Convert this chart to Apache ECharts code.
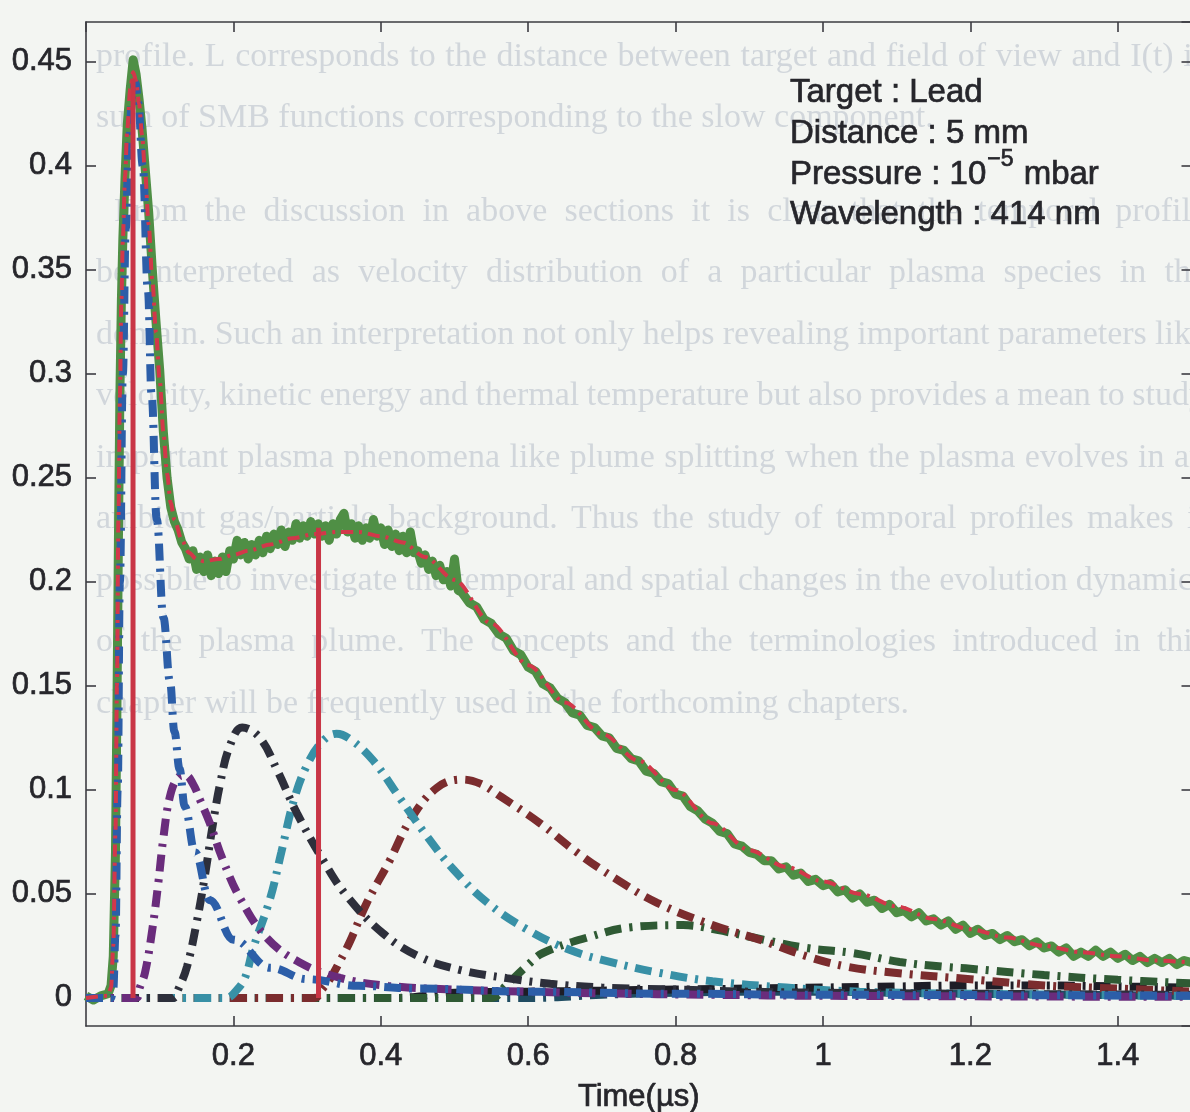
<!DOCTYPE html>
<html>
<head>
<meta charset="utf-8">
<title>Temporal profile – Lead, 414 nm</title>
<script src="https://cdn.jsdelivr.net/npm/echarts@6/dist/echarts.min.js"></script>
<style>
  html, body { margin: 0; padding: 0; background: #f3f5f2; }
  #chart { width: 1190px; height: 1112px; }
</style>
</head>
<body>
<div id="chart"></div>
<script>
// ---- data: time (µs) / normalised intensity ----
const xTickLabels = ['0.2', '0.4', '0.6', '0.8', '1', '1.2', '1.4'];
const yTickLabels = ['0', '0.05', '0.1', '0.15', '0.2', '0.25', '0.3', '0.35', '0.4', '0.45'];

// measured temporal profile
const measured = [
  [0, 0.001], [0.01, -0.001], [0.02, 0.001], [0.03, 0.002], [0.034, 0.006], [0.037, 0.02],
  [0.04, 0.07], [0.042, 0.14], [0.044, 0.22], [0.046, 0.29], [0.048, 0.335], [0.05, 0.365],
  [0.053, 0.395], [0.056, 0.42], [0.06, 0.437], [0.064, 0.451], [0.068, 0.444], [0.072, 0.432],
  [0.076, 0.418], [0.08, 0.40], [0.085, 0.378], [0.09, 0.35], [0.095, 0.325], [0.1, 0.302],
  [0.105, 0.272], [0.11, 0.25], [0.115, 0.236], [0.12, 0.229], [0.125, 0.225], [0.13, 0.219],
  [0.135, 0.216], [0.14, 0.211], [0.145, 0.215], [0.15, 0.206], [0.155, 0.212], [0.16, 0.205],
  [0.165, 0.213], [0.17, 0.203], [0.175, 0.21], [0.18, 0.204], [0.185, 0.212], [0.19, 0.205],
  [0.195, 0.215], [0.2, 0.211], [0.205, 0.22], [0.21, 0.213], [0.215, 0.219], [0.22, 0.211],
  [0.225, 0.218], [0.23, 0.213], [0.235, 0.22], [0.24, 0.214], [0.245, 0.222], [0.25, 0.216],
  [0.255, 0.223], [0.26, 0.218], [0.265, 0.225], [0.27, 0.217], [0.275, 0.224], [0.28, 0.22],
  [0.285, 0.228], [0.29, 0.221], [0.295, 0.227], [0.3, 0.222], [0.305, 0.229], [0.31, 0.223],
  [0.315, 0.228], [0.32, 0.222], [0.325, 0.227], [0.33, 0.22], [0.335, 0.228], [0.34, 0.223],
  [0.345, 0.23], [0.35, 0.233], [0.355, 0.224], [0.36, 0.228], [0.365, 0.221], [0.37, 0.227],
  [0.375, 0.22], [0.38, 0.226], [0.385, 0.221], [0.39, 0.23], [0.395, 0.222], [0.4, 0.226],
  [0.405, 0.218], [0.41, 0.225], [0.415, 0.217], [0.42, 0.223], [0.425, 0.215], [0.43, 0.222],
  [0.435, 0.214], [0.44, 0.224], [0.445, 0.214], [0.45, 0.215], [0.455, 0.209], [0.46, 0.213],
  [0.465, 0.206], [0.47, 0.21], [0.475, 0.203], [0.48, 0.208], [0.485, 0.201], [0.49, 0.205],
  [0.495, 0.198], [0.5, 0.211], [0.505, 0.196], [0.51, 0.195], [0.52, 0.19], [0.53, 0.188],
  [0.54, 0.182], [0.55, 0.18], [0.56, 0.175], [0.57, 0.173], [0.58, 0.167], [0.59, 0.165],
  [0.6, 0.159], [0.61, 0.157], [0.62, 0.151], [0.63, 0.149], [0.64, 0.144], [0.65, 0.142],
  [0.66, 0.137], [0.67, 0.136], [0.68, 0.131], [0.69, 0.13], [0.7, 0.126], [0.71, 0.125],
  [0.72, 0.12], [0.73, 0.119], [0.74, 0.115], [0.75, 0.114], [0.76, 0.109], [0.77, 0.108],
  [0.78, 0.104], [0.79, 0.103], [0.8, 0.098], [0.81, 0.097], [0.82, 0.092], [0.83, 0.09],
  [0.84, 0.086], [0.85, 0.084], [0.86, 0.08], [0.87, 0.079], [0.88, 0.074], [0.89, 0.073],
  [0.9, 0.07], [0.91, 0.069], [0.92, 0.066], [0.93, 0.066], [0.94, 0.062], [0.95, 0.063],
  [0.96, 0.059], [0.97, 0.06], [0.98, 0.056], [0.99, 0.057], [1.0, 0.054], [1.01, 0.055],
  [1.02, 0.051], [1.03, 0.052], [1.04, 0.048], [1.05, 0.05], [1.06, 0.046], [1.07, 0.047],
  [1.08, 0.043], [1.09, 0.045], [1.1, 0.041], [1.11, 0.042], [1.12, 0.039], [1.13, 0.041],
  [1.14, 0.037], [1.15, 0.038], [1.16, 0.035], [1.17, 0.037], [1.18, 0.033], [1.19, 0.035],
  [1.2, 0.031], [1.21, 0.033], [1.22, 0.03], [1.23, 0.031], [1.24, 0.028], [1.25, 0.03],
  [1.26, 0.027], [1.27, 0.028], [1.28, 0.025], [1.29, 0.027], [1.3, 0.024], [1.31, 0.025],
  [1.32, 0.022], [1.33, 0.024], [1.34, 0.02], [1.35, 0.022], [1.36, 0.02], [1.37, 0.023],
  [1.38, 0.02], [1.39, 0.022], [1.4, 0.019], [1.41, 0.021], [1.42, 0.018], [1.43, 0.02],
  [1.44, 0.017], [1.45, 0.019], [1.46, 0.017], [1.47, 0.019], [1.48, 0.016], [1.49, 0.018],
  [1.5, 0.017]
];

// sum of fitted SMB components
const fitSum = [
  [0, 0], [0.03, 0.001], [0.034, 0.005], [0.037, 0.025], [0.04, 0.08], [0.042, 0.15],
  [0.044, 0.23], [0.046, 0.29], [0.048, 0.335], [0.05, 0.365], [0.053, 0.395], [0.056, 0.418],
  [0.06, 0.437], [0.064, 0.445], [0.068, 0.441], [0.072, 0.43], [0.076, 0.415], [0.08, 0.398],
  [0.085, 0.372], [0.09, 0.345], [0.095, 0.32], [0.1, 0.297], [0.105, 0.272], [0.11, 0.252],
  [0.115, 0.238], [0.12, 0.23], [0.13, 0.22], [0.14, 0.214], [0.15, 0.211], [0.16, 0.21],
  [0.18, 0.211], [0.2, 0.213], [0.22, 0.215], [0.25, 0.218], [0.28, 0.221], [0.31, 0.223],
  [0.34, 0.224], [0.37, 0.224], [0.4, 0.222], [0.43, 0.219], [0.46, 0.212], [0.5, 0.201],
  [0.55, 0.18], [0.6, 0.16], [0.65, 0.142], [0.7, 0.127], [0.75, 0.114], [0.8, 0.1],
  [0.85, 0.084], [0.9, 0.071], [0.95, 0.063], [1.0, 0.056], [1.05, 0.05], [1.1, 0.044],
  [1.15, 0.038], [1.2, 0.033], [1.25, 0.029], [1.3, 0.025], [1.35, 0.022], [1.4, 0.02],
  [1.45, 0.018], [1.5, 0.017]
];

// individual SMB components
const smb1 = [
  [0, 0], [0.034, 0], [0.037, 0.004], [0.04, 0.03], [0.043, 0.1], [0.046, 0.2], [0.05, 0.3],
  [0.054, 0.37], [0.058, 0.41], [0.063, 0.435], [0.067, 0.44], [0.071, 0.43], [0.077, 0.4],
  [0.084, 0.34], [0.089, 0.29], [0.096, 0.23], [0.105, 0.183], [0.114, 0.152], [0.12, 0.128],
  [0.127, 0.11], [0.134, 0.092], [0.148, 0.07], [0.168, 0.047], [0.2, 0.028], [0.25, 0.0145],
  [0.3, 0.009], [0.37, 0.0058], [0.45, 0.0045], [0.6, 0.003], [0.8, 0.002], [1.0, 0.0015], [1.5, 0.001]
];
const smb2 = [
  [0, 0], [0.068, 0], [0.073, 0.005], [0.08, 0.012], [0.09, 0.033], [0.098, 0.055], [0.105, 0.077],
  [0.114, 0.097], [0.125, 0.106], [0.135, 0.107], [0.145, 0.103], [0.155, 0.095], [0.168, 0.084],
  [0.185, 0.067], [0.209, 0.048], [0.245, 0.029], [0.29, 0.017], [0.345, 0.0096], [0.41, 0.0058],
  [0.5, 0.004], [0.6, 0.003], [0.7, 0.0022], [0.85, 0.0015], [1.0, 0.001], [1.5, 0.0005]
];
const smb3 = [
  [0, 0], [0.118, 0], [0.125, 0.004], [0.137, 0.015], [0.15, 0.036], [0.161, 0.058], [0.171, 0.081],
  [0.182, 0.103], [0.195, 0.121], [0.212, 0.13], [0.236, 0.125], [0.26, 0.109], [0.286, 0.089],
  [0.322, 0.066], [0.354, 0.049], [0.403, 0.031], [0.453, 0.0197], [0.507, 0.0135], [0.571, 0.0095],
  [0.63, 0.0068], [0.7, 0.005], [0.8, 0.004], [0.9, 0.003], [1.0, 0.0025], [1.2, 0.002], [1.5, 0.0015]
];
const smb4 = [
  [0, 0], [0.19, 0], [0.205, 0.004], [0.216, 0.01], [0.227, 0.024], [0.25, 0.048], [0.265, 0.07],
  [0.282, 0.095], [0.3, 0.112], [0.32, 0.123], [0.34, 0.127], [0.36, 0.124], [0.39, 0.114],
  [0.426, 0.096], [0.462, 0.078], [0.498, 0.062], [0.544, 0.046], [0.598, 0.033], [0.657, 0.023],
  [0.715, 0.017], [0.779, 0.012], [0.85, 0.008], [0.95, 0.005], [1.05, 0.003], [1.2, 0.002], [1.5, 0.001]
];
const smb5 = [
  [0, 0], [0.31, 0], [0.32, 0.004], [0.331, 0.009], [0.345, 0.018], [0.358, 0.027], [0.381, 0.0457],
  [0.412, 0.066], [0.44, 0.0856], [0.476, 0.101], [0.51, 0.105], [0.535, 0.103], [0.562, 0.097],
  [0.616, 0.084], [0.666, 0.07], [0.72, 0.057], [0.775, 0.0457], [0.85, 0.035], [0.914, 0.028],
  [0.978, 0.02], [1.033, 0.015], [1.1, 0.012], [1.2, 0.009], [1.3, 0.006], [1.4, 0.0045], [1.5, 0.003]
];
const smb6 = [
  [0, 0], [0.55, 0], [0.57, 0.006], [0.6, 0.016], [0.62, 0.0216], [0.68, 0.029], [0.74, 0.034],
  [0.81, 0.035], [0.856, 0.0327], [0.919, 0.028], [0.978, 0.024], [1.04, 0.0216], [1.104, 0.0173],
  [1.163, 0.015], [1.2, 0.014], [1.3, 0.011], [1.4, 0.0087], [1.5, 0.007]
];
const smb7 = [
  [0, 0], [0.42, 0], [0.5, 0.0025], [0.6, 0.003], [0.7, 0.0035], [0.8, 0.004], [0.9, 0.0045],
  [1.0, 0.005], [1.1, 0.0055], [1.2, 0.006], [1.3, 0.006], [1.4, 0.0055], [1.5, 0.005]
];
const smb8 = [
  [0, 0], [0.6, 0], [0.7, 0.0015], [0.8, 0.0025], [0.9, 0.003], [1.0, 0.003], [1.1, 0.0025],
  [1.2, 0.002], [1.35, 0.0015], [1.5, 0.001]
];

// boundaries of the fit windows
const windowStart = [[0.0638, 0], [0.0638, 0.442]];
const windowEnd = [[0.3155, 0], [0.3155, 0.226]];

// experiment parameters
const infoLines = ['Target : Lead', 'Distance : 5 mm', 'Wavelength : 414 nm'];
const pressureBase = 'Pressure : 10';
const pressureExp = '\u22125';
const pressureUnit = ' mbar';

// page text behind the figure
const pageLines = [
  'profile. L corresponds to the distance between target and field of view and I(t) is',
  'sum of SMB functions corresponding to the slow component.',
  'From the discussion in above sections it is clear that the temporal profile',
  'be interpreted as velocity distribution of a particular plasma species in the',
  'domain. Such an interpretation not only helps revealing important parameters like',
  'velocity, kinetic energy and thermal temperature but also provides a mean to study',
  'important plasma phenomena like plume splitting when the plasma evolves in an',
  'ambient gas/particle background. Thus the study of temporal profiles makes it',
  'possible to investigate the temporal and spatial changes in the evolution dynamics',
  'of the plasma plume. The concepts and the terminologies introduced in this',
  'chapter will be frequently used in the forthcoming chapters.'
];
const paragraphEnds = [1, 10];

// ---- rendering ----
const SANS = '"Liberation Sans", Arial, Helvetica, sans-serif';
const SERIF = '"Liberation Serif", "Times New Roman", serif';
const INK = '#26262b';
const AXIS = '#3c3c42';

const chart = echarts.init(document.getElementById('chart'), null, { renderer: 'canvas' });

function tickText(list) {
  return function (v) {
    const s = String(parseFloat(v.toFixed(3)));
    return list.indexOf(s) >= 0 ? s : '';
  };
}

const measureCtx = document.createElement('canvas').getContext('2d');
function textWidth(str, size, family) {
  measureCtx.font = size + 'px ' + family;
  return measureCtx.measureText(str).width;
}

const graphics = [];

// justified page text, faint
const pageSize = 34, pageRight = 1206;
pageLines.forEach(function (line, i) {
  const x0 = i === 2 ? 114 : 96;
  const y = 57 + i * 61.5 + (i >= 2 ? 32 : 0);
  const style = { fontSize: pageSize, fontFamily: SERIF, fill: 'rgba(120, 132, 160, 0.27)', verticalAlign: 'middle' };
  if (paragraphEnds.indexOf(i) >= 0) {
    graphics.push({ type: 'text', z: -10, silent: true, x: x0, y: y, style: Object.assign({ text: line }, style) });
    return;
  }
  const words = line.split(' ');
  const widths = words.map(function (w) { return textWidth(w, pageSize, SERIF); });
  const total = widths.reduce(function (a, b) { return a + b; }, 0);
  const gap = (pageRight - x0 - total) / (words.length - 1);
  let x = x0;
  words.forEach(function (w, k) {
    graphics.push({ type: 'text', z: -10, silent: true, x: x, y: y, style: Object.assign({ text: w }, style) });
    x += widths[k] + gap;
  });
});

const infoX = 790, infoSize = 33;
const infoY = [93, 134, 175, 215];
const infoStyle = { fontSize: infoSize, fontFamily: SANS, fill: INK, verticalAlign: 'middle', stroke: INK, lineWidth: 0.7 };
function info(text, x, y, extra) {
  graphics.push({ type: 'text', z: 50, x: x, y: y, style: Object.assign({ text: text }, infoStyle, extra || {}) });
}
info(infoLines[0], infoX, infoY[0]);
info(infoLines[1], infoX, infoY[1]);
const wBase = textWidth(pressureBase, infoSize, SANS);
const wExp = textWidth(pressureExp, 23, SANS);
info(pressureBase, infoX, infoY[2]);
info(pressureExp, infoX + wBase + 1, infoY[2] - 15, { fontSize: 23 });
info(pressureUnit, infoX + wBase + wExp + 2, infoY[2]);
info(infoLines[2], infoX, infoY[3]);

function component(data, color, monotone) {
  return {
    type: 'line', data: data, showSymbol: false, smooth: 0.4,
    smoothMonotone: monotone ? 'x' : undefined,
    lineStyle: { color: color, width: 8, type: [17, 8, 3, 8], cap: 'butt' },
    z: 3, silent: true
  };
}

const frameLine = { show: true, onZero: false, lineStyle: { color: AXIS, width: 1.6 } };
const frameTick = { show: true, inside: true, length: 10, lineStyle: { color: AXIS, width: 1.6 } };
const labelFont = { fontSize: 31, fontFamily: SANS, color: INK, textBorderColor: INK, textBorderWidth: 0.7 };

chart.setOption({
  backgroundColor: '#f3f5f2',
  animation: false,
  graphic: graphics,
  grid: { left: 86, right: -1.5, top: 22, bottom: 86, outerBoundsMode: 'none', containLabel: false },
  xAxis: [
    {
      type: 'value', position: 'bottom', min: 0, max: 1.5, interval: 0.2,
      axisLine: frameLine, axisTick: frameTick, splitLine: { show: false },
      axisLabel: Object.assign({
        formatter: tickText(xTickLabels), showMinLabel: false, showMaxLabel: false, margin: 15
      }, labelFont),
      name: 'Time(\u00b5s)', nameLocation: 'middle', nameGap: 56,
      nameTextStyle: labelFont
    },
    {
      type: 'value', position: 'top', min: 0, max: 1.5, interval: 0.2,
      axisLine: frameLine, axisTick: frameTick, splitLine: { show: false },
      axisLabel: { show: false }
    }
  ],
  yAxis: [
    {
      type: 'value', position: 'left', min: -0.0135, max: 0.4692, splitNumber: 10,
      axisLine: frameLine, axisTick: frameTick, splitLine: { show: false },
      axisLabel: Object.assign({
        formatter: tickText(yTickLabels), showMinLabel: false, showMaxLabel: false, margin: 14
      }, labelFont)
    },
    {
      type: 'value', position: 'right', min: -0.0135, max: 0.4692, splitNumber: 10,
      axisLine: frameLine, axisTick: frameTick, splitLine: { show: false },
      axisLabel: { show: false }
    }
  ],
  series: [
    {
      type: 'line', data: measured, showSymbol: false,
      lineStyle: { color: '#4f8f45', width: 9, join: 'round' }, z: 2, silent: true
    },
    component(smb8, '#1f4c62'),
    component(smb7, '#1d1d26'),
    component(smb6, '#2f5a34'),
    component(smb5, '#7b2c2e'),
    component(smb4, '#3890a6'),
    component(smb3, '#2d2f3b'),
    component(smb2, '#6a2c7c'),
    component(smb1, '#2c5ea8', true),
    {
      type: 'line', data: fitSum, showSymbol: false, smooth: 0.3, smoothMonotone: 'x',
      lineStyle: { color: '#d2384a', width: 4, type: [12, 6, 3, 6] }, z: 4, silent: true
    },
    {
      type: 'line', data: windowStart, showSymbol: false,
      lineStyle: { color: '#c93646', width: 5 }, z: 5, silent: true
    },
    {
      type: 'line', data: windowEnd, showSymbol: false,
      lineStyle: { color: '#c93646', width: 5 }, z: 5, silent: true
    }
  ]
});
</script>
</body>
</html>
